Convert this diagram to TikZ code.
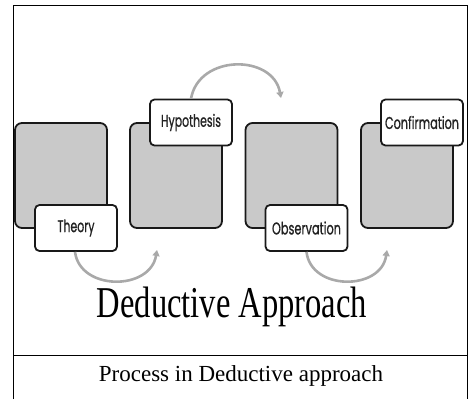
\documentclass[tikz,border=0pt]{standalone}
\usepackage{fontspec}
\setmainfont{Liberation Serif}
\newfontfamily\labelfont[FakeBold=1.0]{Poppins}
\usetikzlibrary{arrows.meta}
\definecolor{boxgray}{HTML}{C9C9C9}
\definecolor{arrowgray}{HTML}{A9A9A9}
\definecolor{labeltext}{HTML}{222222}
\newcommand{\lbl}[2]{\resizebox{#1pt}{\height}{#2}}
\begin{document}
\begin{tikzpicture}[x=1pt,y=-1pt,
  graybox/.style={draw=black!90,line width=1.8pt,fill=boxgray,rounded corners=7pt,
    minimum width=92pt,minimum height=105pt,inner sep=0pt},
  labelbox/.style={draw=black!90,line width=1.8pt,fill=white,rounded corners=4.5pt,
    minimum width=82pt,minimum height=46pt,inner sep=0pt,text=labeltext,
    font=\labelfont\fontsize{17}{19}\selectfont},
  flowarrow/.style={draw=arrowgray,line width=2.6pt,
    -{Triangle[length=6pt,width=7pt]}},
  frameline/.style={draw=black,line width=1pt}
]
\useasboundingbox (0,0) rectangle (470,399);
% outer frame
\draw[frameline] (13,399) -- (13,5) -- (467.5,5) -- (467.5,399);
\draw[frameline] (13,355) -- (467.5,355);
% gray boxes
\node[graybox] (b1) at (61,175.5) {};
\node[graybox] (b2) at (176,175.5) {};
\node[graybox] (b3) at (291.5,175.5) {};
\node[graybox] (b4) at (407,175.5) {};
% labels
\node[labelbox] (theory) at (76,228) {\lbl{37}{Theory}};
\node[labelbox] (hyp) at (191,122.5) {\lbl{60}{Hypothesis}};
\node[labelbox] (obs) at (306.5,228) {\lbl{69}{Observation}};
\node[labelbox] (conf) at (422,122.5) {\lbl{74}{Confirmation}};
% arrow ends
\coordinate (e1) at (157,250);
\coordinate (e2) at (281,98);
\coordinate (e3) at (387,250);
% arrows
\draw[flowarrow] (theory.south) ++(-1,0) coordinate (s1)
  (s1) .. controls (80,291) and (150,291) .. (e1);
\draw[flowarrow] (hyp.north) .. controls (199,54) and (273,54) .. (e2);
\draw[flowarrow] (obs.south) .. controls (311,291) and (381,291) .. (e3);
% title and caption
\node[anchor=base,inner sep=0pt] (title) at (232,317)
  {\fontsize{44}{48}\selectfont\scalebox{0.74}[1]{Deductive Approach}};
\node[anchor=base,inner sep=0pt] (caption) at (241,381)
  {\fontsize{23}{26}\selectfont Process in Deductive approach};
\end{tikzpicture}
\end{document}
